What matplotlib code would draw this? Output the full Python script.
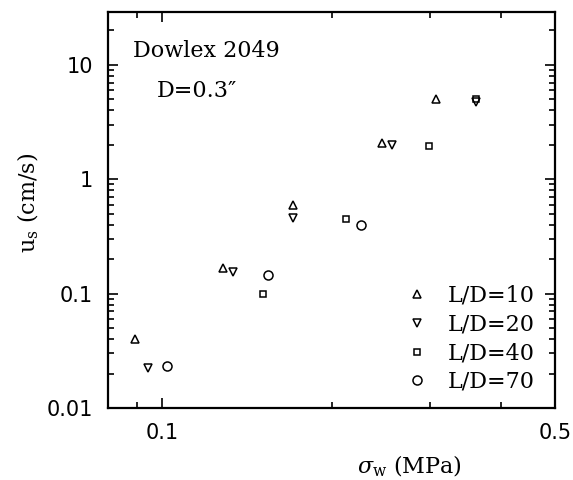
import matplotlib
matplotlib.use("Agg")
import matplotlib.pyplot as plt
from matplotlib.ticker import FixedLocator, NullFormatter, FixedFormatter

# Data (sigma_w in MPa, u_s in cm/s)
x_ld10 = [0.0892, 0.1284, 0.171, 0.2464, 0.307]
y_ld10 = [0.040, 0.166, 0.592, 2.065, 5.01]
x_ld20 = [0.0944, 0.1338, 0.171, 0.2566, 0.362]
y_ld20 = [0.0222, 0.1535, 0.456, 1.98, 4.72]
x_ld40 = [0.1512, 0.2126, 0.2987, 0.362]
y_ld40 = [0.0986, 0.447, 1.944, 5.01]
x_ld70 = [0.102, 0.1544, 0.226]
y_ld70 = [0.0231, 0.1446, 0.396]

labels = ["L/D=10", "L/D=20", "L/D=40", "L/D=70"]
x_ticks = [0.1, 0.5]
x_ticklabels = ["0.1", "0.5"]
y_ticks = [0.01, 0.1, 1, 10]
y_ticklabels = ["0.01", "0.1", "1", "10"]

plt.rcParams['mathtext.fontset'] = 'dejavuserif'

fig = plt.figure(figsize=(5.73, 4.80), dpi=100)
ax = fig.add_axes([108/573, 1-408/480, (555-108)/573, (408-12)/480])
ax.set_xscale('log')
ax.set_yscale('log')

mk = dict(linestyle='none', markerfacecolor='none', markeredgecolor='black',
          markeredgewidth=1.1)
ax.plot(x_ld10, y_ld10, marker='^', markersize=6, label=labels[0], **mk)
ax.plot(x_ld20, y_ld20, marker='v', markersize=6, label=labels[1], **mk)
ax.plot(x_ld40, y_ld40, marker='s', markersize=5, label=labels[2], **mk)
ax.plot(x_ld70, y_ld70, marker='o', markersize=6.5, label=labels[3], **mk)

ax.set_xlim(0.08, 0.5)
ax.set_ylim(0.01, 29)

ax.xaxis.set_major_locator(FixedLocator(x_ticks))
ax.xaxis.set_major_formatter(FixedFormatter(x_ticklabels))
ax.xaxis.set_minor_locator(FixedLocator([0.09, 0.2, 0.3, 0.4]))
ax.xaxis.set_minor_formatter(NullFormatter())
ax.yaxis.set_major_locator(FixedLocator(y_ticks))
ax.yaxis.set_major_formatter(FixedFormatter(y_ticklabels))
ax.yaxis.set_minor_formatter(NullFormatter())

ax.tick_params(which='both', direction='in', top=True, right=True, width=1.2)
ax.tick_params(which='major', length=7)
ax.tick_params(which='minor', length=4)
ax.tick_params(axis='y', which='major', pad=11)
ax.tick_params(axis='x', which='major', pad=11)
for lab in ax.get_xticklabels() + ax.get_yticklabels():
    lab.set_fontfamily('DejaVu Sans')
    lab.set_fontsize(15)
for sp in ax.spines.values():
    sp.set_linewidth(1.6)

ax.text(133/573, 1-57/480, "Dowlex 2049", transform=fig.transFigure,
        fontfamily='DejaVu Serif', fontsize=16, va='baseline', ha='left')
ax.text(157/573, 1-97/480, "D=0.3\u2033", transform=fig.transFigure,
        fontfamily='DejaVu Serif', fontsize=16, va='baseline', ha='left')

leg = ax.legend(loc='lower right', frameon=False, prop={'family': 'DejaVu Serif', 'size': 16},
                handlelength=0.8, handletextpad=1.0, labelspacing=0.3,
                borderaxespad=0, borderpad=0, numpoints=1,
                bbox_to_anchor=(535/573, 1-393/480), bbox_transform=fig.transFigure)

fig.text(409/573, 1-466/480, r"$\sigma_{\rm w}$ (MPa)", ha='center', va='center',
         fontfamily='DejaVu Serif', fontsize=16)
fig.text(28/573, 1-203/480, r"u$_{\rm s}$ (cm/s)", ha='center', va='center',
         rotation=90, fontfamily='DejaVu Serif', fontsize=16)

fig.savefig("out.png", dpi=100)
